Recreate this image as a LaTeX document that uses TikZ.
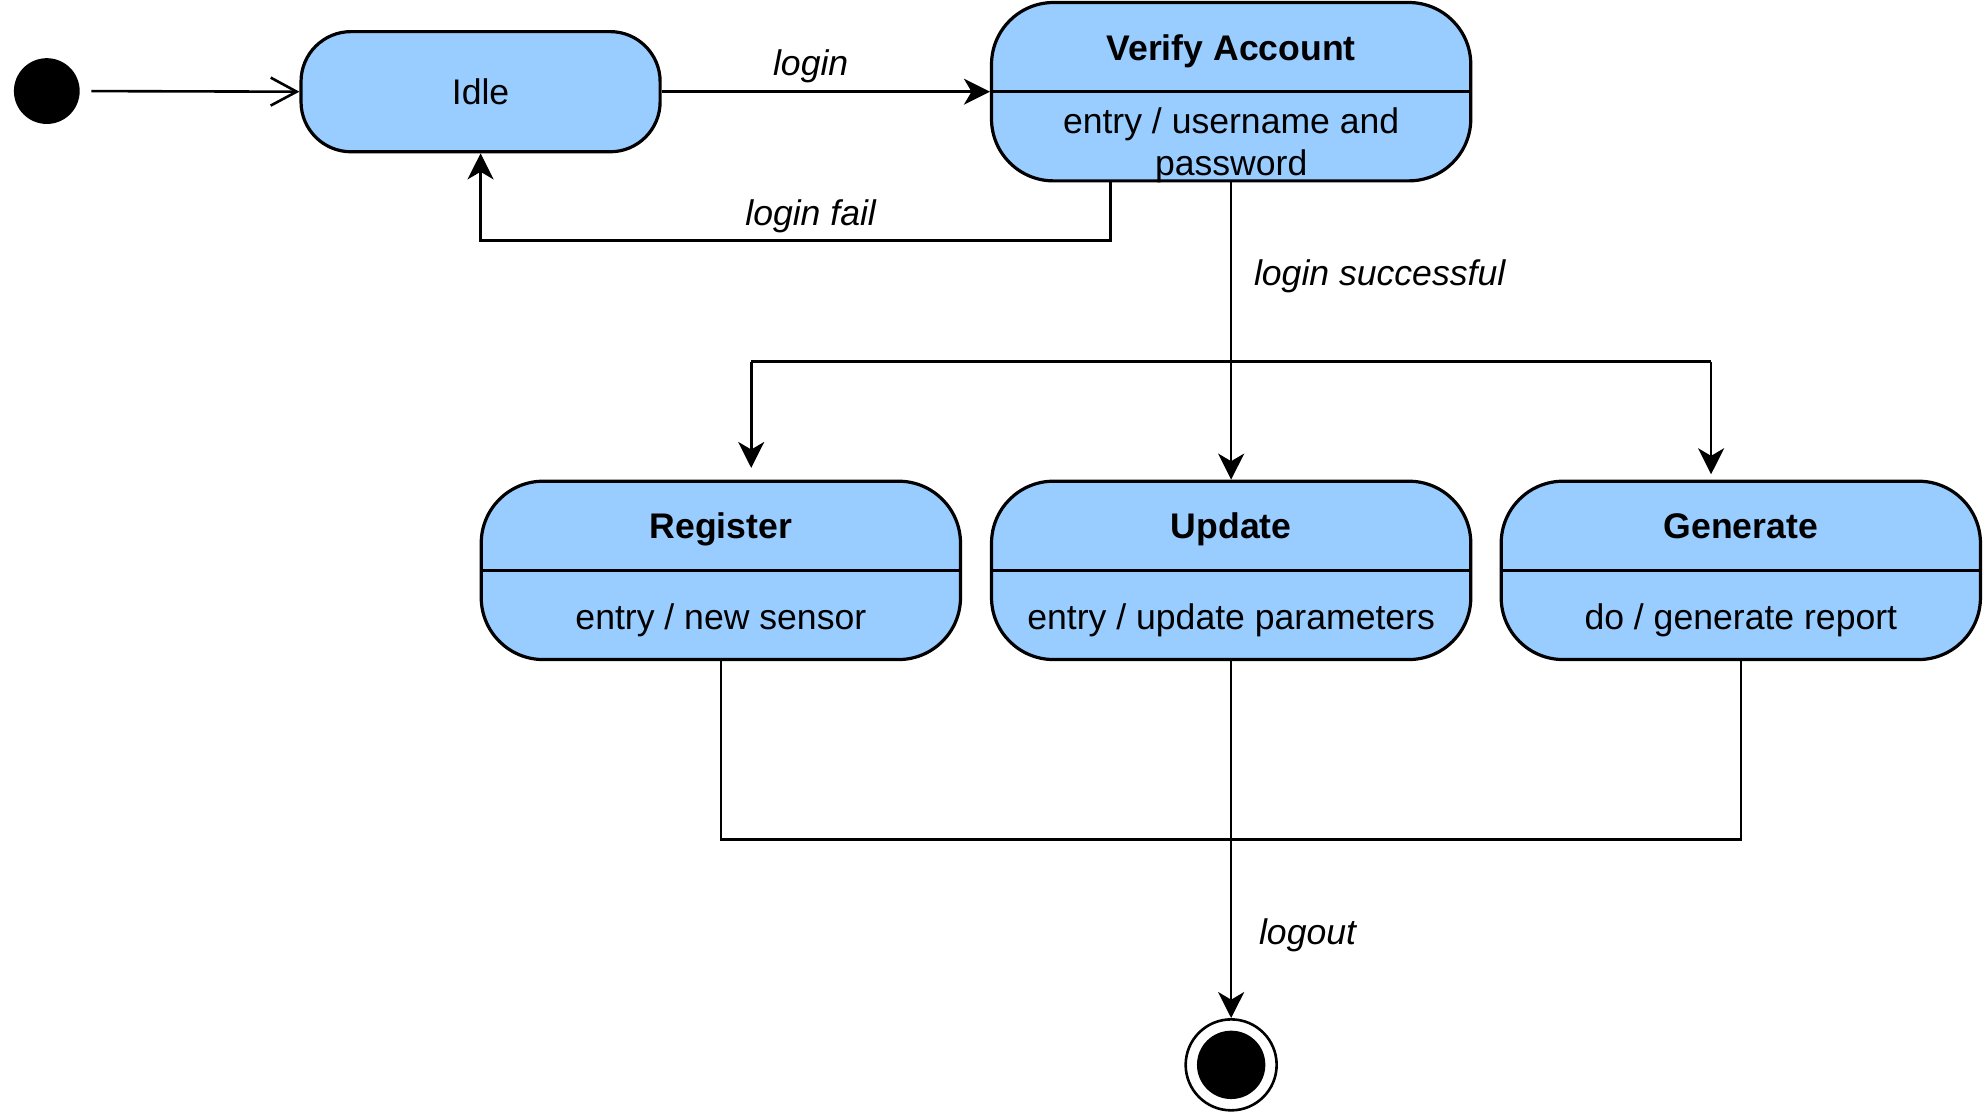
\documentclass[tikz,border=0pt]{standalone}
\usepackage{fontspec}
\setmainfont{Liberation Sans}
\usetikzlibrary{arrows.meta}
\definecolor{stfill}{HTML}{99CCFF}
\begin{document}
\begin{tikzpicture}[x=0.6325pt,y=-0.6325pt,
  every node/.style={font=\fontsize{17.8}{21}\selectfont},
  statebox/.style={draw=black, line width=1.6pt, fill=stfill, rounded corners=31pt, minimum width=239.7pt, minimum height=89.2pt, inner sep=0pt},
  sttitle/.style={font=\fontsize{17.8}{21}\selectfont\bfseries, anchor=base},
  stbody/.style={anchor=base},
  lbl/.style={font=\fontsize{17.8}{21}\selectfont\itshape, anchor=base},
  conn/.style={line width=1.3pt},
  arr/.style={conn, -{Stealth[length=13pt,width=13pt,inset=3.8pt]}},
  divider/.style={line width=1.6pt},
]
\useasboundingbox (0,0) rectangle (1568,882);

% states
\node[circle, fill=black, minimum size=32.9pt, inner sep=0pt] (init) at (37,72) {};
\node[statebox, minimum width=179.6pt, minimum height=60.1pt, rounded corners=25pt] (idle) at (380,72.5) {};
\node[stbody] (idlet) at (380,83) {Idle};

\node[statebox] (verify) at (973.5,72.5) {};
\draw[divider] (verify.west) -- (verify.east);
\node[sttitle] (verifyt) at (973.5,48) {Verify Account};
\node[align=center] (verifyb) at (973.5,114.5) {entry / username and\\password};

\node[statebox] (register) at (570,451) {};
\draw[divider] (register.west) -- (register.east);
\node[sttitle] (registert) at (570,426) {Register};
\node[stbody] (registerb) at (570,498) {entry / new sensor};

\node[statebox] (update) at (973.5,451) {};
\draw[divider] (update.west) -- (update.east);
\node[sttitle] (updatet) at (973.5,426) {Update};
\node[stbody] (updateb) at (973.5,498) {entry / update parameters};

\node[statebox] (generate) at (1376.5,451) {};
\draw[divider] (generate.west) -- (generate.east);
\node[sttitle] (generatet) at (1376.5,426) {Generate};
\node[stbody] (generateb) at (1376.5,498) {do / generate report};

\node[circle, draw=black, line width=1.3pt, fill=white, minimum size=45.5pt, inner sep=0pt] (final) at (973.5,842) {};
\fill[black] (final.center) circle[radius=17.1pt];

% connectors
\draw[conn, -{Straight Barb[length=13pt,width=14pt]}, shorten <=5.7pt] (init.east) -- (idle.west);
\draw[arr] (idle.east) -- (verify.west);
\node[lbl] (llogin) at (641,60) {login};

\coordinate (fail) at (878,190);
\draw[arr] (verify.south -| fail) -- (fail) -| (idle.south);
\node[lbl] (lfail) at (641,178) {login fail};

\draw[arr] (verify.south) -- (update.north);
\node[lbl, anchor=base west] (lsucc) at (986,226) {login successful};

\coordinate (fl) at (594,286);
\coordinate (fr) at (1353,286);
\coordinate (regin) at (594,370);
\coordinate (genin) at (1353,375);
\draw[conn] (fl) -- (fr);
\draw[arr] (fl) -- (regin);
\draw[arr] (fr) -- (genin);

\coordinate (join) at (973.5,664);
\draw[conn] (register.south) |- (join) -| (generate.south);
\draw[arr] (update.south) -- (final.north);
\node[lbl, anchor=base west] (llogout) at (990,747) {logout};
\end{tikzpicture}
\end{document}
